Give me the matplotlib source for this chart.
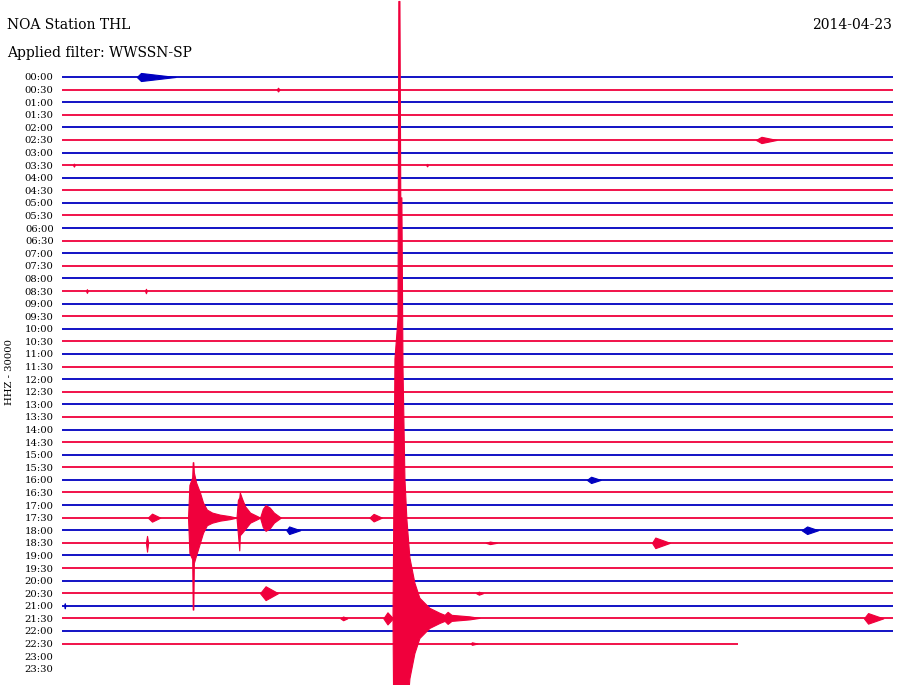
import matplotlib
matplotlib.use("Agg")
import matplotlib.pyplot as plt
import numpy as np

# ---------------- data ----------------
row_labels = [f"{h:02d}:{m:02d}" for h in range(24) for m in (0, 30)]
trace_end = [30.0] * 45 + [24.4]          # minutes recorded on each row

# simple bursts: row, start, peak, end (minutes), amplitude (row units)
burst_row  = [0, 1, 5, 7, 7, 17, 17, 32, 35, 35, 36, 36, 37, 37, 41, 41, 42, 43, 43, 43, 45]
burst_x0   = [2.70, 7.75, 25.05, 0.40, 13.15, 0.87, 3.00, 18.95, 3.10, 11.10, 8.10, 26.70, 21.30, 15.30, 7.15, 14.95, 0.08, 10.05, 11.60, 28.95, 14.75]
burst_xp   = [2.85, 7.80, 25.25, 0.43, 13.18, 0.90, 3.03, 19.10, 3.25, 11.25, 8.20, 26.90, 21.42, 15.45, 7.35, 15.05, 0.10, 10.15, 11.75, 29.10, 14.80]
burst_x1   = [4.10, 7.85, 25.80, 0.46, 13.21, 0.93, 3.06, 19.45, 3.55, 11.55, 8.60, 27.30, 21.95, 15.70, 7.80, 15.20, 0.12, 10.30, 11.95, 29.65, 15.00]
burst_amp  = [0.32, 0.15, 0.25, 0.12, 0.10, 0.15, 0.18, 0.25, 0.32, 0.30, 0.30, 0.30, 0.42, 0.10, 0.55, 0.12, 0.20, 0.15, 0.48, 0.42, 0.10]

# main earthquake on 21:30 row
main_row = 43
main_x  = [11.95, 12.02, 12.13, 12.16, 12.20, 12.23, 12.27, 12.31, 12.38, 12.45, 12.56, 12.74, 12.92, 13.28, 13.65, 13.83, 13.94, 14.08, 14.73, 15.09]
main_up = [0.0, 20.6, 23.8, 49.0, 49.0, 33.4, 33.4, 19.9, 11.1, 7.9, 4.8, 2.8, 1.6, 0.8, 0.4, 0.24, 0.48, 0.24, 0.12, 0.0]
main_dn = [0.0, 20.6, 23.8, 49.0, 49.0, 33.4, 33.4, 19.9, 11.1, 7.9, 4.8, 2.8, 1.6, 0.8, 0.4, 0.24, 0.48, 0.24, 0.12, 0.0]

# regional events on 17:30 row
ev1_row = 35
ev1_x  = [4.55, 4.60, 4.70, 4.72, 4.74, 4.76, 4.84, 4.98, 5.09, 5.23, 5.42, 5.70, 6.06, 6.30]
ev1_up = [0.0, 2.6, 3.2, 4.4, 4.4, 3.6, 2.8, 2.0, 1.2, 0.64, 0.40, 0.24, 0.12, 0.0]
ev1_dn = [0.0, 2.8, 3.3, 7.3, 7.3, 3.6, 3.0, 2.0, 1.2, 0.60, 0.40, 0.24, 0.12, 0.0]

ev2_row = 35
ev2_x  = [6.30, 6.35, 6.40, 6.42, 6.50, 6.61, 6.79, 7.07, 7.15]
ev2_up = [0.0, 1.4, 1.6, 2.0, 1.5, 0.9, 0.4, 0.1, 0.0]
ev2_dn = [0.0, 1.3, 2.6, 1.4, 1.2, 0.9, 0.4, 0.1, 0.0]

ev3_row = 35
ev3_x  = [7.15, 7.25, 7.35, 7.50, 7.65, 7.90]
ev3_up = [0.0, 0.7, 1.0, 0.8, 0.4, 0.0]
ev3_dn = [0.0, 0.75, 1.05, 0.85, 0.4, 0.0]

spike_row = 37
spike_x  = [3.03, 3.07, 3.11]
spike_up = [0.0, 0.55, 0.0]
spike_dn = [0.0, 0.70, 0.0]

# ---------------- style ----------------
BLUE = "#0000c0"
RED = "#f0003c"
FONT = "DejaVu Serif"

fig = plt.figure(figsize=(9.0, 6.85), dpi=100)
ax = fig.add_axes([62 / 900, 0.0, 831 / 900, 1.0])
row_px = 12.59
ax.set_xlim(0, 30)
ax.set_ylim((685 - 77) / row_px, -77 / row_px)

def color_for(r):
    return BLUE if r % 2 == 0 else RED

for r, end in enumerate(trace_end):
    ax.plot([0, end], [r, r], color=color_for(r), lw=1.3, solid_capstyle="butt", zorder=2)

def draw_event(r, xs, up, dn, z=3):
    xs = np.asarray(xs); up = np.asarray(up); dn = np.asarray(dn)
    c = color_for(r)
    ax.fill_between(xs, r - up, r + dn, color=c, lw=0.8, edgecolor=c, zorder=z)

for r, a, p, b, amp in zip(burst_row, burst_x0, burst_xp, burst_x1, burst_amp):
    draw_event(r, [a, p, b], [0, amp, 0], [0, amp, 0])

draw_event(ev1_row, ev1_x, ev1_up, ev1_dn)
draw_event(ev2_row, ev2_x, ev2_up, ev2_dn)
draw_event(ev3_row, ev3_x, ev3_up, ev3_dn)
draw_event(spike_row, spike_x, spike_up, spike_dn)
draw_event(main_row, main_x, main_up, main_dn, z=5)

ax.set_yticks(range(len(row_labels)))
ax.set_yticklabels(row_labels, fontfamily=FONT, fontsize=7.2)
ax.tick_params(axis="y", length=0, pad=6)
ax.set_xticks([])
for s in ax.spines.values():
    s.set_visible(False)
ax.patch.set_alpha(0)

fig.text(7 / 900, 1 - 25 / 685, "NOA Station THL", fontfamily=FONT, fontsize=10,
         ha="left", va="center")
fig.text(7 / 900, 1 - 53 / 685, "Applied filter: WWSSN-SP", fontfamily=FONT, fontsize=10,
         ha="left", va="center")
fig.text(892 / 900, 1 - 25 / 685, "2014-04-23", fontfamily=FONT, fontsize=10,
         ha="right", va="center")
fig.text(10 / 900, 1 - 372 / 685, "HHZ - 30000", fontfamily=FONT, fontsize=7.2,
         rotation=90, ha="center", va="center")

fig.savefig("out.png", dpi=100, facecolor="white")
